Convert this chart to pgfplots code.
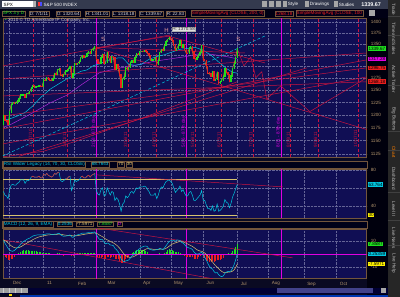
\documentclass[border=0pt]{standalone}
\usepackage{pgfplots}
\pgfplotsset{compat=1.18}
\usepackage{pgfplotstable}
\usepackage{fontspec}
\setmainfont{Liberation Sans}
\definecolor{panelbg}{RGB}{16,14,84}
\definecolor{framebg}{RGB}{10,10,34}
\definecolor{tbbg}{RGB}{52,58,78}
\definecolor{crim}{RGB}{200,20,64}
\definecolor{mag}{RGB}{225,0,225}
\definecolor{cyn}{RGB}{0,200,225}
\definecolor{purp}{RGB}{175,40,215}
\definecolor{cgreen}{RGB}{30,225,30}
\definecolor{cred}{RGB}{235,30,30}
\definecolor{corange}{RGB}{225,140,40}
\definecolor{tanc}{RGB}{180,150,110}
\definecolor{gridc}{RGB}{100,100,150}
\definecolor{brd}{RGB}{115,85,60}
\definecolor{yel}{RGB}{215,195,110}
\definecolor{salm}{RGB}{235,160,160}
\newcommand{\ft}{\fontsize{4.6}{5}\selectfont}
\pgfplotsset{panel/.style={scale only axis, width=364pt, xmin=-4.26, xmax=230.58,
  axis background/.style={fill=panelbg}, axis line style={draw=brd, line width=0.6pt},
  major tick length=0pt, xtick={0,22,42,61,84,104,125,147,167,190,211},
  xmajorgrids, ymajorgrids, grid style={gridc, densely dotted, line width=0.35pt},
  ticklabel style={font=\ft, text=tanc}, yticklabel pos=right,
  yticklabel style={anchor=west, xshift=0.5pt},
  /pgf/number format/assume math mode=true, clip mode=individual}}
\tikzset{tag/.style={font=\ft, inner sep=0.6pt, anchor=west, text=black}}

\pgfplotstableread{
t rsi
-4 56
-3 52
-2 51
-1 48
0 58
1 63
2 64
3 63
4 63
5 65
6 66
7 69
8 69
9 69
10 65
11 68
12 68
13 69
14 72
15 73
16 72
17 72
18 72
19 73
20 71
21 71
22 75
23 74
24 76
25 74
26 73
27 72
28 73
29 76
30 75
31 77
32 77
33 68
34 67
35 68
36 70
37 70
38 72
39 73
40 57
41 62
42 69
43 67
44 68
45 69
46 72
47 73
48 71
49 71
50 73
51 74
52 72
53 74
54 75
55 76
56 57
57 53
58 52
59 58
60 60
61 51
62 52
63 60
64 56
65 52
66 56
67 55
68 46
69 49
70 47
71 42
72 34
73 42
74 44
75 51
76 49
77 51
78 55
79 56
80 54
81 57
82 60
83 59
84 61
85 61
86 61
87 62
88 61
89 58
90 56
91 52
92 52
93 52
94 54
95 48
96 52
97 58
98 61
99 60
100 64
101 67
102 68
103 69
104 67
105 65
106 60
107 55
108 57
109 59
110 62
111 56
112 58
113 54
114 51
115 51
116 55
117 56
118 52
119 46
120 46
121 48
122 50
123 52
124 57
125 46
126 46
127 41
128 37
129 37
130 35
131 40
132 34
133 35
134 42
135 34
136 35
137 37
138 40
139 47
140 44
141 43
142 38
143 43
144 50
145 54
146 59
147 64
}\rsitab

\pgfplotstableread{
t macd sig hist
-4 10.5 11 -0.5
-3 8.5 10.5 -2
-2 6.5 9.7 -3.2
-1 4.5 8.7 -4.2
0 3 7.5 -4.5
1 2.5 6.5 -4
2 2.2 5.7 -3.5
3 2.8 5.1 -2.3
4 3.8 4.8 -1
5 5 4.9 0.1
6 5.9 5.1 0.8
7 7.5 5.6 1.9
8 8.8 6.2 2.6
9 10 7.0 3
10 10.5 7.7 2.8
11 11.3 8.4 2.9
12 12 9.1 2.9
13 12.4 9.8 2.6
14 13.2 10.5 2.7
15 14 11.2 2.8
16 14.4 11.8 2.6
17 14.7 12.4 2.3
18 14.9 12.9 2
19 15 13.3 1.7
20 15 13.7 1.3
21 14.8 13.9 0.9
22 15.3 14.2 1.1
23 15.4 14.4 1
24 15.7 14.7 1
25 15.7 14.9 0.8
26 15.6 15.0 0.6
27 15.3 15.1 0.2
28 15.1 15.1 0
29 15.5 15.2 0.3
30 15.4 15.2 0.2
31 15.9 15.4 0.6
32 16.1 15.5 0.6
33 15 15.4 -0.4
34 14.2 15.2 -1
35 13.8 14.9 -1.1
36 14 14.7 -0.7
37 14.1 14.6 -0.5
38 14.5 14.6 -0.1
39 14.9 14.6 0.3
40 13.3 14.4 -1.1
41 13 14.1 -1.1
42 14.2 14.1 0.1
43 14.6 14.2 0.4
44 15 14.4 0.6
45 15.3 14.6 0.7
46 15.8 14.8 1
47 16.3 15.1 1.2
48 16.2 15.3 0.9
49 16.2 15.5 0.7
50 16.5 15.7 0.8
51 16.7 15.9 0.8
52 16.5 16.0 0.5
53 16.7 16.2 0.5
54 17 16.3 0.7
55 17.2 16.5 0.7
56 15.2 16.2 -1
57 13.1 15.6 -2.5
58 11.5 14.8 -3.3
59 11.2 14.1 -2.9
60 11.3 13.5 -2.2
61 9.3 12.7 -3.4
62 8 11.7 -3.7
63 8.6 11.1 -2.5
64 8.2 10.5 -2.3
65 7.1 9.8 -2.7
66 7 9.3 -2.3
67 6.6 8.7 -2.1
68 4.5 7.9 -3.4
69 3.4 7.0 -3.6
70 2 6.0 -4
71 -0.3 4.7 -5
72 -3.8 3.0 -6.8
73 -5.2 1.4 -6.6
74 -6 -0.1 -5.9
75 -5.2 -1.1 -4.1
76 -5 -1.9 -3.1
77 -4.4 -2.4 -2
78 -3 -2.5 -0.5
79 -1.5 -2.3 0.8
80 -0.6 -2.0 1.4
81 0.8 -1.4 2.2
82 2.4 -0.7 3.1
83 3.3 0.1 3.2
84 4.4 1.0 3.4
85 5.2 1.8 3.4
86 5.7 2.6 3.1
87 6.2 3.3 2.9
88 6.3 3.9 2.4
89 5.8 4.3 1.5
90 4 4.2 -0.2
91 3.5 4.1 -0.6
92 3.2 3.9 -0.7
93 3 3.7 -0.7
94 3.2 3.6 -0.4
95 3.5 3.6 -0.1
96 3.8 3.6 0.2
97 4.5 3.8 0.7
98 4 3.9 0.2
99 3.5 3.8 -0.3
100 4.8 4.0 0.8
101 6.5 4.5 2
102 8.2 5.2 3
103 9.8 6.1 3.7
104 10.4 7.0 3.4
105 10.9 7.8 3.1
106 10.6 8.3 2.3
107 10 8.7 1.3
108 11 9.1 1.9
109 10.8 9.5 1.3
110 10.6 9.7 0.9
111 9.2 9.6 -0.4
112 8.5 9.4 -0.9
113 7.5 9.0 -1.5
114 6 8.4 -2.4
115 5.2 7.8 -2.6
116 4.7 7.2 -2.5
117 4.5 6.6 -2.1
118 3.5 6.0 -2.5
119 1.8 5.2 -3.4
120 0.5 4.2 -3.7
121 0 3.4 -3.4
122 0.3 2.8 -2.5
123 0.8 2.4 -1.6
124 1.5 2.2 -0.7
125 -0.5 1.7 -2.2
126 -2.5 0.8 -3.3
127 -4.4 -0.2 -4.2
128 -7.2 -1.6 -5.6
129 -9.3 -3.2 -6.1
130 -11 -4.7 -6.3
131 -11.5 -6.1 -5.4
132 -13.5 -7.6 -5.9
133 -14.6 -9.0 -5.6
134 -14.2 -10.0 -4.2
135 -16 -11.2 -4.8
136 -17 -12.4 -4.6
137 -17.4 -13.4 -4
138 -16.8 -14.1 -2.7
139 -14.9 -14.2 -0.7
140 -13.9 -14.2 0.3
141 -13.2 -14.0 0.8
142 -13.7 -13.9 0.2
143 -12.8 -13.7 0.9
144 -10.8 -13.1 2.3
145 -8 -12.1 4.1
146 -4.2 -10.3 5.8
147 0.25 -7.6 7.86
}\macdtab

\begin{document}
\begin{tikzpicture}[x=1pt,y=1pt]
\fill[framebg] (0,0) rectangle (400,297);
% toolbar
\fill[tbbg] (0,288) rectangle (400,297);
\fill[white] (2,289.5) rectangle (33,295.5);
\node[font=\ft, anchor=west, inner sep=0.5pt] at (3,292.5) {SPX};
\fill[gray!60] (33.5,289.5) rectangle (36.5,295.5);
\fill[red!80] (38.5,290.5) rectangle (40.5,294.5);
\fill[blue!70] (40.5,290.5) rectangle (42.5,294.5);
\node[font=\ft, anchor=west, inner sep=0.5pt, text=white] at (43,292.5) {S\&P 500 INDEX};
\foreach \xx in {262,269,276} {\fill[gray!70] (\xx,289.5) rectangle (\xx+5,295.5);}
\fill[gray!70] (283,289.5) rectangle (287,295.5);
\node[font=\ft, anchor=west, inner sep=0.5pt, text=white] at (287.5,292.5) {Style};
\fill[gray!70] (305,289.5) rectangle (309,295.5);
\node[font=\ft, anchor=west, inner sep=0.5pt, text=white] at (309.5,292.5) {Drawings};
\fill[gray!70] (334,289.5) rectangle (338,295.5);
\node[font=\ft, anchor=west, inner sep=0.5pt, text=white] at (338.5,292.5) {Studies};
\node[font=\fontsize{5.4}{6}\selectfont\bfseries, anchor=west, inner sep=0.5pt, text=white] at (361,292.5) {1339.67};
% info bar
\fill[black!92!blue] (0,279) rectangle (388,288);
\begin{scope}[every node/.style={font=\ft, anchor=west, inner sep=0.7pt, draw=brd, fill=black!90!blue, text=white!85!black}]
\node[text=cgreen] at (2,283.5) {SPX 3 y D};
\node at (29,283.5) {D: 7/1/11};
\node at (56,283.5) {O: 1320.64};
\node at (85,283.5) {H: 1341.01};
\node at (112,283.5) {L: 1318.18};
\node at (139,283.5) {C: 1339.67};
\node at (166,283.5) {R: 22.83};
\node[text=cred] at (191,283.5) {SimpleMovingAvg (CLOSE, 200, 0)};
\node[text=cred] at (275,283.5) {1268.18};
\node[text=cred] at (296,283.5) {SimpleMovingAvg (CLOSE, 100};
\end{scope}
\fill[gray!70] (369,281) rectangle (375,286.5);
% right label strip
\fill[black!95!blue] (367,0) rectangle (388,279);
% right tabs
\fill[black!70!gray] (388,0) rectangle (400,297);
\begin{scope}[every node/.style={font=\ft, rotate=-90, anchor=west, inner sep=0.5pt, text=white!75!black}]
\node at (394,294) {Trade};
\node at (394,275) {Time and Sales};
\node at (394,232) {Active Trader};
\node at (394,190) {Big Buttons};
\node[text=orange] at (394,151) {Chart};
\node at (394,130) {Dashboard};
\node at (394,96) {Level II};
\node at (394,70) {Live News};
\node at (394,44) {Live Help};
\end{scope}
\foreach \yy in {281,262,212,166,147,105,77,52} {\draw[black!50!gray, line width=0.6pt] (388,\yy) -- (400,\yy);}
% bottom scroll bar
\fill[black!80!blue] (0,3) rectangle (388,9);
\fill[gray!75] (0,3.5) rectangle (28,9);
\foreach \xx in {3,9,15,21} {\draw[gray!40] (\xx,3.5) -- (\xx,9);}
\fill[yellow!80!orange] (9,0.5) rectangle (12,2.5);
\fill[blue!35!gray!80!black] (277,3.5) rectangle (373,8.5);
\fill[gray!70] (381,3.5) rectangle (386,8.5);
\fill[blue!70!cyan!70!black] (20,0) rectangle (388,2.2);
% RSI header
\begin{scope}[every node/.style={font=\ft, anchor=west, inner sep=0.7pt, draw=brd, fill=black!90!blue}]
\draw[brd, fill=black!90!blue] (2,129) rectangle (367,136);
\node[text=cyn] at (3,132.5) {RSI Wilder Legacy (14, 70, 30, CLOSE)};
\node[text=cyn] at (91,132.5) {68.7643};
\node[text=yel] at (117.5,132.5) {70};
\node[text=yel] at (126,132.5) {30};
% MACD header
\draw[brd, fill=black!90!blue] (2,69) rectangle (367,76);
\node[text=cyn] at (3,72.5) {MACD (12, 26, 9, EMA)};
\node[text=cyn] at (57,72.5) {0.2536};
\node[text=yel] at (76,72.5) {-7.5971};
\node[text=cgreen] at (97.5,72.5) {7.8587};
\node[text=mag] at (117,72.5) {D};
\end{scope}

%================ PRICE PANEL (log price scale via coordinate transform)
\begin{axis}[panel, at={(3pt,140pt)}, anchor=south west, height=139pt,
  y coord trafo/.code={\pgfmathparse{ln(#1)}},
  y coord inv trafo/.code={\pgfmathparse{exp(#1)}},
  ymin=1119.4, ymax=1409.3, xticklabels={},
  ytick={1125,1150,1175,1200,1225,1250,1275,1300,1325,1350,1375,1400},
  yticklabels={1125,1150,1175,1200,1225,1250,1275,{},{},1350,1375,1400}]
% vertical dashed date lines
\foreach \vv in {15.1,37,76.4,94.9,119.6,136.8,157.2,181.5,199.2,225}{
  \edef\tmp{\noexpand\addplot[crim, densely dashed, line width=0.6pt] coordinates {(\vv,1119.4) (\vv,1409.3)};}\tmp}
\foreach \vv in {56.2,114.3,175.5}{
  \edef\tmp{\noexpand\addplot[mag, line width=0.6pt] coordinates {(\vv,1119.4) (\vv,1409.3)};}\tmp}
% moving averages
\addplot[crim, line width=0.5pt] coordinates {(-4,1120) (0,1121) (22,1130) (42,1148) (61,1168) (84,1192) (104,1215) (125,1240) (147,1268)};
\addplot[purp, line width=0.5pt] coordinates {(-4,1176) (0,1180) (10,1196) (20,1213) (26,1224) (37,1240) (47,1263) (58,1287) (69,1296) (81,1303) (94,1312) (104,1317) (114,1322) (122,1328) (130,1327) (140,1322) (147,1317)};
\addplot[cyn, line width=0.5pt] coordinates {(-4,1190) (0,1192) (5,1198) (10,1205) (15,1218) (20,1235) (26,1252) (31,1262) (37,1274) (42,1283) (46,1290) (50,1293) (54,1302) (58,1306) (62,1312) (67,1317) (70,1319) (73,1319) (77,1305) (81,1303) (85,1305) (90,1316) (95,1322) (100,1326) (104,1331) (110,1338) (115,1340) (120,1342) (125,1336) (130,1325) (135,1310) (140,1296) (144,1288) (147,1286)};
% trendlines
\addplot[cyn, densely dashed, line width=0.5pt] coordinates {(-4.26,1121.3) (164.77,1367.9)};
\addplot[crim, line width=0.5pt] coordinates {(-4.26,1301.6) (103.48,1370.2)};
\addplot[crim, line width=0.5pt] coordinates {(56.39,1341.6) (103.48,1367.9)};
\addplot[crim, line width=0.5pt] coordinates {(56.39,1342.1) (151.87,1329.9)};
\addplot[crim, line width=0.5pt] coordinates {(56.39,1341.0) (230.58,1171.3)};
\addplot[crim, line width=0.5pt] coordinates {(102.19,1367.9) (164.77,1308.1)};
\addplot[crim, line width=0.5pt] coordinates {(-4.26,1273.8) (230.58,1329.9)};
\addplot[crim, line width=0.5pt] coordinates {(-4.26,1238.5) (230.58,1267.9)};
\addplot[crim, line width=0.5pt] coordinates {(-4.26,1198.1) (230.58,1297.5)};
\addplot[crim, line width=0.5pt] coordinates {(-4.26,1172.6) (230.58,1314.8)};
\addplot[crim, line width=0.5pt] coordinates {(-4.26,1143.8) (230.58,1278.1)};
\addplot[crim, line width=0.5pt] coordinates {(6.06,1120.4) (191.87,1297.5)};
\addplot[crim, line width=0.5pt] coordinates {(147.35,1336.6) (151.23,1301.6) (155.74,1321.1) (158.97,1276.3) (162.84,1289.0) (166.06,1232.3) (175.10,1259.2) (193.81,1206.7) (230.58,1276.3)};
% daily closes (thin line beneath the candle bodies)
\addplot[corange, line width=0.45pt] coordinates {(-4,1198.35) (-3,1189.40) (-2,1187.76) (-1,1180.55) (0,1206.07) (1,1221.53) (2,1224.71) (3,1223.12) (4,1223.75) (5,1228.28) (6,1233.00) (7,1240.40) (8,1240.46) (9,1241.59) (10,1235.23) (11,1242.87) (12,1243.91) (13,1247.08) (14,1254.60) (15,1258.84) (16,1256.77) (17,1257.54) (18,1258.51) (19,1259.78) (20,1257.88) (21,1257.64) (22,1271.87) (23,1270.20) (24,1276.56) (25,1273.85) (26,1271.50) (27,1269.75) (28,1274.48) (29,1285.96) (30,1283.76) (31,1293.24) (32,1295.02) (33,1281.92) (34,1280.26) (35,1283.35) (36,1290.84) (37,1291.18) (38,1296.63) (39,1299.54) (40,1276.34) (41,1286.12) (42,1307.59) (43,1304.03) (44,1307.10) (45,1310.87) (46,1319.05) (47,1324.57) (48,1320.88) (49,1321.87) (50,1329.15) (51,1332.32) (52,1328.01) (53,1336.32) (54,1340.43) (55,1343.01) (56,1315.44) (57,1307.40) (58,1306.10) (59,1319.88) (60,1327.22) (61,1306.33) (62,1308.44) (63,1330.97) (64,1321.15) (65,1310.13) (66,1321.82) (67,1320.02) (68,1295.11) (69,1304.28) (70,1296.39) (71,1281.87) (72,1256.88) (73,1273.72) (74,1279.21) (75,1298.38) (76,1293.77) (77,1297.54) (78,1309.66) (79,1313.80) (80,1310.19) (81,1319.44) (82,1328.26) (83,1325.83) (84,1332.41) (85,1332.87) (86,1332.63) (87,1335.54) (88,1333.51) (89,1328.17) (90,1324.46) (91,1314.16) (92,1314.41) (93,1314.52) (94,1319.68) (95,1305.14) (96,1312.62) (97,1330.36) (98,1337.38) (99,1335.25) (100,1347.24) (101,1355.66) (102,1360.48) (103,1363.61) (104,1361.22) (105,1356.62) (106,1347.32) (107,1335.10) (108,1340.20) (109,1346.29) (110,1357.16) (111,1342.08) (112,1348.65) (113,1337.77) (114,1329.47) (115,1328.98) (116,1340.68) (117,1343.60) (118,1333.27) (119,1317.37) (120,1316.28) (121,1320.47) (122,1325.69) (123,1331.10) (124,1345.20) (125,1314.55) (126,1312.94) (127,1300.16) (128,1286.17) (129,1284.94) (130,1279.56) (131,1289.00) (132,1270.98) (133,1271.83) (134,1287.87) (135,1265.42) (136,1267.64) (137,1271.50) (138,1278.36) (139,1295.52) (140,1287.14) (141,1283.50) (142,1268.45) (143,1280.10) (144,1296.67) (145,1307.41) (146,1320.64) (147,1339.67)};
% candles: up (prev close -> close)
\foreach \a/\b/\c in {-4/1180.73/1198.35, 0/1180.55/1206.07, 1/1206.07/1221.53, 2/1221.53/1224.71,
4/1223.12/1223.75, 5/1223.75/1228.28, 6/1228.28/1233.00, 7/1233.00/1240.40, 8/1240.40/1240.46, 9/1240.46/1241.59,
11/1235.23/1242.87, 12/1242.87/1243.91, 13/1243.91/1247.08, 14/1247.08/1254.60, 15/1254.60/1258.84, 17/1256.77/1257.54,
18/1257.54/1258.51, 19/1258.51/1259.78, 22/1257.64/1271.87, 24/1270.20/1276.56, 28/1269.75/1274.48, 29/1274.48/1285.96,
31/1283.76/1293.24, 32/1293.24/1295.02, 35/1280.26/1283.35, 36/1283.35/1290.84, 37/1290.84/1291.18, 38/1291.18/1296.63,
39/1296.63/1299.54, 41/1276.34/1286.12, 42/1286.12/1307.59, 44/1304.03/1307.10, 45/1307.10/1310.87, 46/1310.87/1319.05,
47/1319.05/1324.57, 49/1320.88/1321.87, 50/1321.87/1329.15, 51/1329.15/1332.32, 53/1328.01/1336.32, 54/1336.32/1340.43,
55/1340.43/1343.01, 59/1306.10/1319.88, 60/1319.88/1327.22, 62/1306.33/1308.44, 63/1308.44/1330.97, 66/1310.13/1321.82,
69/1295.11/1304.28, 73/1256.88/1273.72, 74/1273.72/1279.21, 75/1279.21/1298.38, 77/1293.77/1297.54, 78/1297.54/1309.66,
79/1309.66/1313.80, 81/1310.19/1319.44, 82/1319.44/1328.26, 84/1325.83/1332.41, 85/1332.41/1332.87, 87/1332.63/1335.54,
92/1314.16/1314.41, 93/1314.41/1314.52, 94/1314.52/1319.68, 96/1305.14/1312.62, 97/1312.62/1330.36, 98/1330.36/1337.38,
100/1335.25/1347.24, 101/1347.24/1355.66, 102/1355.66/1360.48, 103/1360.48/1363.61, 108/1335.10/1340.20, 109/1340.20/1346.29,
110/1346.29/1357.16, 112/1342.08/1348.65, 116/1328.98/1340.68, 117/1340.68/1343.60, 121/1316.28/1320.47, 122/1320.47/1325.69,
123/1325.69/1331.10, 124/1331.10/1345.20, 131/1279.56/1289.00, 133/1270.98/1271.83, 134/1271.83/1287.87, 136/1265.42/1267.64,
137/1267.64/1271.50, 138/1271.50/1278.36, 139/1278.36/1295.52, 143/1268.45/1280.10, 144/1280.10/1296.67, 145/1296.67/1307.41,
146/1307.41/1320.64, 147/1320.64/1339.67}{
  \edef\tmp{\noexpand\addplot[cgreen, line width=1.25pt, line cap=rect] coordinates {(\a,\b) (\a,\c)};}\tmp}
% candles: down
\foreach \a/\b/\c in {-3/1198.35/1189.40, -2/1189.40/1187.76, -1/1187.76/1180.55, 3/1224.71/1223.12,
10/1241.59/1235.23, 16/1258.84/1256.77, 20/1259.78/1257.88, 21/1257.88/1257.64, 23/1271.87/1270.20, 25/1276.56/1273.85,
26/1273.85/1271.50, 27/1271.50/1269.75, 30/1285.96/1283.76, 33/1295.02/1281.92, 34/1281.92/1280.26, 40/1299.54/1276.34,
43/1307.59/1304.03, 48/1324.57/1320.88, 52/1332.32/1328.01, 56/1343.01/1315.44, 57/1315.44/1307.40, 58/1307.40/1306.10,
61/1327.22/1306.33, 64/1330.97/1321.15, 65/1321.15/1310.13, 67/1321.82/1320.02, 68/1320.02/1295.11, 70/1304.28/1296.39,
71/1296.39/1281.87, 72/1281.87/1256.88, 76/1298.38/1293.77, 80/1313.80/1310.19, 83/1328.26/1325.83, 86/1332.87/1332.63,
88/1335.54/1333.51, 89/1333.51/1328.17, 90/1328.17/1324.46, 91/1324.46/1314.16, 95/1319.68/1305.14, 99/1337.38/1335.25,
104/1363.61/1361.22, 105/1361.22/1356.62, 106/1356.62/1347.32, 107/1347.32/1335.10, 111/1357.16/1342.08, 113/1348.65/1337.77,
114/1337.77/1329.47, 115/1329.47/1328.98, 118/1343.60/1333.27, 119/1333.27/1317.37, 120/1317.37/1316.28, 125/1345.20/1314.55,
126/1314.55/1312.94, 127/1312.94/1300.16, 128/1300.16/1286.17, 129/1286.17/1284.94, 130/1284.94/1279.56, 132/1289.00/1270.98,
135/1287.87/1265.42, 140/1295.52/1287.14, 141/1287.14/1283.50, 142/1283.50/1268.45}{
  \edef\tmp{\noexpand\addplot[cred, line width=1.25pt, line cap=rect] coordinates {(\a,\b) (\a,\c)};}\tmp}
\end{axis}

%================ RSI PANEL
\begin{axis}[panel, at={(3pt,79pt)}, anchor=south west, height=49pt, ymin=26.7, ymax=81.1,
  xticklabels={}, ytick={40,60,80}, yticklabels={40,{},80}]
\addplot[mag, line width=0.6pt] coordinates {(56.2,26.7) (56.2,81.1)};
\addplot[mag, line width=0.6pt] coordinates {(114.3,26.7) (114.3,81.1)};
\addplot[mag, line width=0.6pt] coordinates {(175.5,26.7) (175.5,81.1)};
\addplot[yel, line width=0.6pt] coordinates {(-4.26,70) (147,70)};
\addplot[yel, line width=0.6pt] coordinates {(-4.26,30) (147,30)};
\addplot[crim, line width=0.5pt] coordinates {(56.4,74.4) (176.4,61.1)};
\addplot[cyn, line width=0.5pt] table[x=t, y=rsi] {\rsitab};
\addplot[cred, line width=0.5pt, restrict y to domain=70:100, unbounded coords=jump] table[x=t, y=rsi] {\rsitab};
\end{axis}

%================ MACD PANEL
\begin{axis}[panel, at={(3pt,18pt)}, anchor=south west, height=50pt, ymin=-19.1, ymax=19.6,
  ytick={-10,0,10}, yticklabels={-10,{},10},
  xticklabels={Dec,11,Feb,Mar,Apr,May,Jun,Jul,Aug,Sep,Oct},
  xticklabel style={anchor=north west, xshift=0pt, yshift=0.5pt}]
\addplot[mag, line width=0.6pt] coordinates {(56.2,-19.1) (56.2,19.6)};
\addplot[mag, line width=0.6pt] coordinates {(114.3,-19.1) (114.3,19.6)};
\addplot[mag, line width=0.6pt] coordinates {(175.5,-19.1) (175.5,19.6)};
\addplot[cgreen, ycomb, line width=0.8pt, restrict y to domain=0:100] table[x=t, y=hist] {\macdtab};
\addplot[cred, ycomb, line width=0.8pt, restrict y to domain=-100:0] table[x=t, y=hist] {\macdtab};
\addplot[mag, line width=0.8pt] coordinates {(-4.26,0) (230.58,0)};
\addplot[crim, line width=0.5pt] coordinates {(56.4,20.4) (182.8,-2.9)};
\addplot[crim, line width=0.5pt] coordinates {(-4.26,11.1) (131.2,-19.1)};
\addplot[yel, line width=0.5pt] table[x=t, y=sig] {\macdtab};
\addplot[cyn, line width=0.5pt] table[x=t, y=macd] {\macdtab};
\end{axis}

% ---------- annotations (picture coordinates)
\begin{scope}[every node/.style={font=\ft, rotate=90, anchor=south west, inner sep=0.6pt, text=crim}]
\node at (33,149) {12/17/10};
\node at (67,149) {1/21/11};
\node[text=mag] at (96.7,149) {2/18 - 87th day};
\node at (128,149) {3/16/11};
\node at (156.7,149) {4/15/11};
\node[text=mag] at (186.7,149) {5/16 - 87th day};
\node at (195,149) {5/16/11};
\node at (221.7,149) {6/15/11};
\node at (253.3,149) {7/15/11};
\node[text=mag] at (281.7,149) {8/11 - 87th day};
\node at (291,149) {8/18/11};
\node at (318.3,149) {9/16/11};
\node at (358.3,149) {10/17/11};
\end{scope}
\node[font=\fontsize{6}{6}\selectfont, text=salm] at (103.3,258) {S};
\node[font=\fontsize{6}{6}\selectfont, text=salm] at (166.7,266.5) {H};
\node[font=\fontsize{6}{6}\selectfont, text=salm] at (238.5,258) {S};
\node[font=\ft, fill=gray!25, draw=gray!60, inner sep=0.6pt, anchor=west, text=black!80] at (171.7,267.7) {H: 1370.58};
\node[font=\ft, text=white!80!black, anchor=west, inner sep=0pt] at (5,276.5) {\textcolor{cgreen}{\textbullet}\ 2010 \textcopyright\ TD Ameritrade IP Company, Inc.};
\node[tag, fill=cgreen] at (368,248.4) {1339.67};
\node[tag, fill=mag] at (368,238.2) {1317.28};
\node[tag, fill=cred] at (368,228.7) {1296.75};
\node[tag, fill=cred] at (368,215.3) {1268.18};
\node[tag, fill=cyn] at (368,112.4) {63.764};
\node[tag, fill=yellow] at (368,82) {30};
\node[tag, fill=cgreen] at (368,52.8) {7.8587};
\node[tag, fill=cyn] at (368,43) {0.25359};
\node[tag, fill=yellow] at (368,32.9) {-7.5971};
\end{tikzpicture}
\end{document}
